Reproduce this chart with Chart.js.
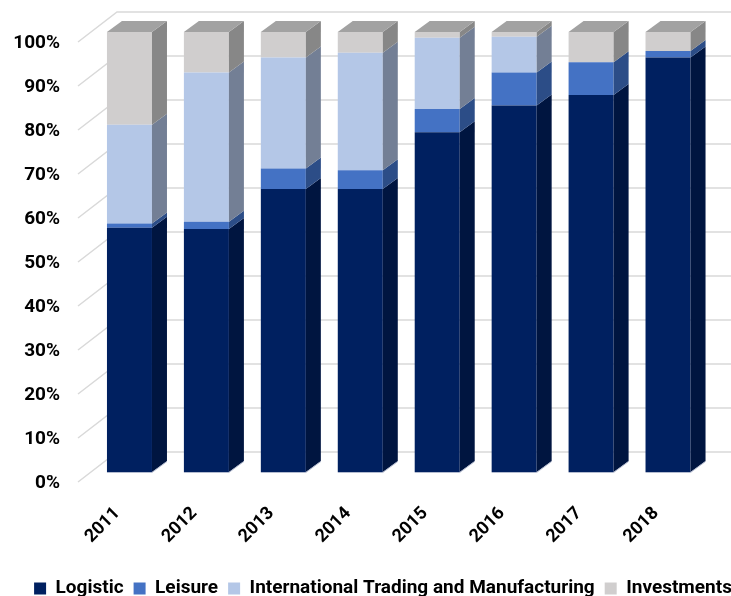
<!DOCTYPE html>
<html>
<head>
<meta charset="utf-8">
<script src="https://cdn.jsdelivr.net/npm/chart.js@4.4.0/dist/chart.umd.min.js"></script>
<style>
  html, body { margin: 0; padding: 0; background: #fff; overflow: hidden; }
  #wrap { width: 731px; height: 596px; }
</style>
</head>
<body>
<div id="wrap"><canvas id="myChart"></canvas></div>
<script>
/* global Chart */
const years = ['2011', '2012', '2013', '2014', '2015', '2016', '2017', '2018']
const logistic = [55.5, 55.2, 64.3, 64.3, 77.2, 83.3, 85.7, 94.2]
const leisure = [1.0, 1.7, 4.7, 4.3, 5.3, 7.5, 7.4, 1.5]
const trading = [22.4, 33.9, 25.2, 26.7, 16.2, 8.1, 0, 0]
const investments = [21.1, 9.2, 5.8, 4.7, 1.3, 1.1, 6.9, 4.3]
const seriesNames = ['Logistic', 'Leisure', 'International Trading and Manufacturing', 'Investments']

const frontColors = ['#002060', '#4472C4', '#B4C7E7', '#D0CECE']
const sideColors = ['#001540', '#2C4D87', '#737F95', '#878787']
const topColors = ['#001A4D', '#3A63AD', '#94A3BD', '#A2A2A2']

const FONT = 'Roboto, "Liberation Sans", sans-serif'
const DX = 15
const DY = 11
const PAD_BOTTOM = -12

// fakes the 3d look: back wall grid, side and top faces
const depthPlugin = {
  id: 'depth',
  beforeDatasetsDraw (chart) {
    const ctx = chart.ctx
    const y = chart.scales.y
    const left = chart.chartArea.left
    ctx.save()
    ctx.strokeStyle = '#D9D9D9'
    ctx.lineWidth = 1.5
    y.ticks.forEach(t => {
      const py = y.getPixelForValue(t.value)
      ctx.beginPath()
      ctx.moveTo(left - 13, py + 10)
      ctx.lineTo(left + 26, py - 20)
      ctx.lineTo(chart.width, py - 20)
      ctx.stroke()
    })
    ctx.restore()
  },
  afterDatasetsDraw (chart) {
    const ctx = chart.ctx
    const poly = (pts, color) => {
      ctx.fillStyle = color
      ctx.beginPath()
      ctx.moveTo(pts[0][0], pts[0][1])
      pts.slice(1).forEach(p => ctx.lineTo(p[0], p[1]))
      ctx.closePath()
      ctx.fill()
    }
    ctx.save()
    chart.data.datasets.forEach((ds, i) => {
      chart.getDatasetMeta(i).data.forEach(bar => {
        const { x, y, base, width } = bar.getProps(['x', 'y', 'base', 'width'], true)
        if (Math.abs(base - y) < 0.1) return
        const r = x + width / 2
        poly([[r, y], [r + DX, y - DY], [r + DX, base - DY], [r, base]], sideColors[i])
      })
    })
    years.forEach((yr, j) => {
      let top = -1
      chart.data.datasets.forEach((ds, i) => { if (ds.data[j] > 0) top = i })
      if (top < 0) return
      const bar = chart.getDatasetMeta(top).data[j]
      const { x, y, width } = bar.getProps(['x', 'y', 'width'], true)
      const l = x - width / 2
      const r = x + width / 2
      poly([[l, y], [l + DX, y - DY], [r + DX, y - DY], [r, y]], topColors[top])
      // faint outline along the bottom edge of the front face
      const b = chart.getDatasetMeta(0).data[j].base
      ctx.strokeStyle = 'rgba(160, 170, 195, 0.8)'
      ctx.lineWidth = 1
      ctx.beginPath()
      ctx.moveTo(l, b + 0.5)
      ctx.lineTo(r, b + 0.5)
      ctx.lineTo(r + DX, b - DY + 0.5)
      ctx.stroke()
    })
    ctx.restore()
  }
}

const datasets = [logistic, leisure, trading, investments].map((d, i) => ({
  label: seriesNames[i],
  data: d,
  backgroundColor: frontColors[i],
  borderWidth: 0,
  barPercentage: 0.585,
  categoryPercentage: 1
}))

const config = {
  type: 'bar',
  data: { labels: years, datasets },
  plugins: [depthPlugin],
  options: {
    responsive: true,
    maintainAspectRatio: false,
    animation: false,
    layout: { padding: { left: 0, right: -35, top: 32, bottom: PAD_BOTTOM } },
    plugins: {
      tooltip: { enabled: false },
      legend: {
        position: 'bottom',
        align: 'center',
        labels: {
          boxWidth: 12,
          boxHeight: 12,
          padding: 10,
          color: '#000',
          font: { family: FONT, size: 19, weight: 'bold' }
        }
      }
    },
    scales: {
      x: {
        stacked: true,
        grid: { display: false, drawTicks: false },
        border: { display: false },
        ticks: {
          maxRotation: 45,
          minRotation: 45,
          labelOffset: -12,
          padding: 31,
          color: '#000',
          font: { family: FONT, size: 18, weight: 'bold' }
        },
        afterFit: s => {
          const lh = s.chart.legend ? s.chart.legend.height : 40
          s.height = s.chart.height - 472 - lh - PAD_BOTTOM
        }
      },
      y: {
        stacked: true,
        min: 0,
        max: 100,
        grid: { display: false, drawTicks: true, tickLength: 31 },
        border: { display: false },
        ticks: {
          stepSize: 10,
          padding: 0,
          labelOffset: 11,
          color: '#000',
          font: { family: FONT, size: 19, weight: 'bold' },
          callback: v => v + '%'
        },
        afterFit: s => { s.width = 91 }
      },
      yRight: {
        position: 'right',
        display: true,
        grid: { display: false, drawTicks: false },
        border: { display: false },
        ticks: { display: false },
        afterFit: s => { s.width = 59.5 }
      }
    }
  }
}

const myChart = new Chart(document.getElementById('myChart'), config)
</script>
</body>
</html>
